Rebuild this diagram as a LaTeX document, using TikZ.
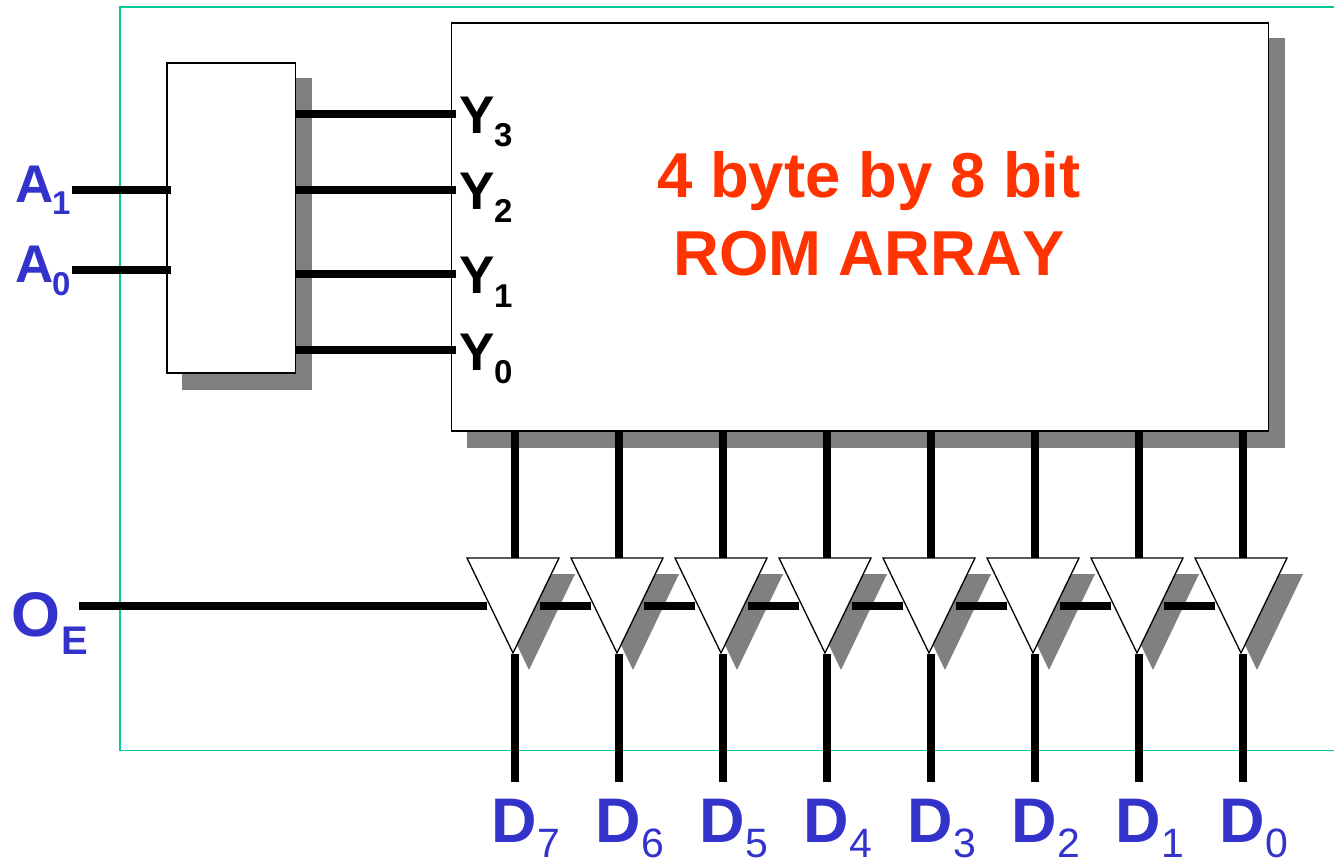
\documentclass[tikz,border=0pt]{standalone}
\usepackage{fontspec}
\setmainfont[Kerning=Off]{Liberation Sans}
\definecolor{labelblue}{RGB}{51,51,204}
\definecolor{titlered}{RGB}{255,51,0}
\definecolor{framegreen}{RGB}{0,204,153}
\definecolor{shadegray}{RGB}{128,128,128}
\tikzset{
 wire/.style={line width=7.8pt},
 blocknode/.style={draw,fill=white,line width=1.3pt,inner sep=0pt,outer sep=0pt,anchor=north west},
 shadenode/.style={fill=shadegray,inner sep=0pt,outer sep=0pt,anchor=north west},
 buffertri/.style={draw,fill=white,line width=1.3pt,line join=miter},
 pinlabel/.style={font=\bfseries\fontsize{53}{53}\selectfont,inner sep=0pt,anchor=base west},
 pinsub/.style={font=\bfseries\fontsize{33}{33}\selectfont,inner sep=0pt,anchor=base west},
 buslabel/.style={font=\bfseries\fontsize{63}{63}\selectfont,text=labelblue,inner sep=0pt,anchor=base west},
 bussub/.style={font=\fontsize{41}{41}\selectfont,text=labelblue,inner sep=0pt,anchor=base west},
}
\begin{document}
\begin{tikzpicture}[x=1pt,y=-1pt]
 \useasboundingbox (0,0) rectangle (1334,861);
 \fill[white] (0,0) rectangle (1334,861);
 \draw[framegreen,line width=1.8pt] (1334,7)--(120,7)--(120,750.5)--(1334,750.5);
 % decoder and rom
 \node[shadenode,minimum width=130,minimum height=312] (decshade) at (182,78) {};
 \node[blocknode,minimum width=128.5,minimum height=310] (dec) at (167,63) {};
 \node[shadenode,minimum width=818,minimum height=410] (romshade) at (467,38) {};
 \node[blocknode,minimum width=817,minimum height=408] (rom) at (451.5,23) {};
 \node[text=titlered,font=\bfseries\fontsize{63.5}{78}\selectfont,align=center] (title) at (869,214) {4 byte by 8 bit\\ROM ARRAY};
 % address inputs
 \foreach \n/\ypos in {1/190,0/270}{
  \coordinate (al\n) at (72,\ypos);
  \coordinate (ar\n) at (171,\ypos);
  \draw[wire] (al\n)--(ar\n);
  \node[pinlabel,text=labelblue] (alab\n) at (15,\ypos+13) {A};
  \node[pinsub,text=labelblue] (asub\n) at (52,\ypos+25) {\n};
 }
 % word lines
 \foreach \n/\ypos in {3/114,2/190,1/274,0/350}{
  \coordinate (yl\n) at (296,\ypos);
  \coordinate (yr\n) at (456,\ypos);
  \draw[wire] (yl\n)--(yr\n);
  \node[pinlabel] (ylab\n) at (459,\ypos+20) {Y};
  \node[pinsub] (ysub\n) at (494,\ypos+33) {\n};
 }
 % enable line
 \coordinate (oe) at (79,606);
 \coordinate (oer) at (487,606);
 \draw[wire] (oe)--(oer);
 \node[buslabel] (oelab) at (11,636) {O};
 \node[pinsub,font=\bfseries\fontsize{40}{40}\selectfont,text=labelblue] (oesub) at (61,654) {E};
 % buffers
 \foreach \n/\xpos in {7/515,6/619,5/723,4/827,3/931,2/1035,1/1139,0/1243}{
  \coordinate (dt\n) at (\xpos,431);
  \coordinate (bt\n) at (\xpos,558);
  \coordinate (bb\n) at (\xpos,654);
  \coordinate (db\n) at (\xpos,782);
  \fill[shadegray] (\xpos-32,574)--(\xpos+60,574)--(\xpos+14,670)--cycle;
  \draw[wire] (dt\n)--(bt\n);
  \draw[wire] (bb\n)--(db\n);
  \node[buslabel] (dlab\n) at (\xpos-24,842) {D};
  \node[bussub] (dsub\n) at (\xpos+22,857.5) {\n};
 }
 \foreach \n/\xpos in {6/515,5/619,4/723,3/827,2/931,1/1035,0/1139}{
  \coordinate (el\n) at (\xpos+25,606);
  \coordinate (er\n) at (\xpos+76,606);
  \draw[wire] (el\n)--(er\n);
 }
 \foreach \xpos in {515,619,723,827,931,1035,1139,1243}{
  \draw[buffertri] (\xpos-48,558)--(\xpos+44,558)--(\xpos-2,653)--cycle;
 }
\end{tikzpicture}
\end{document}
